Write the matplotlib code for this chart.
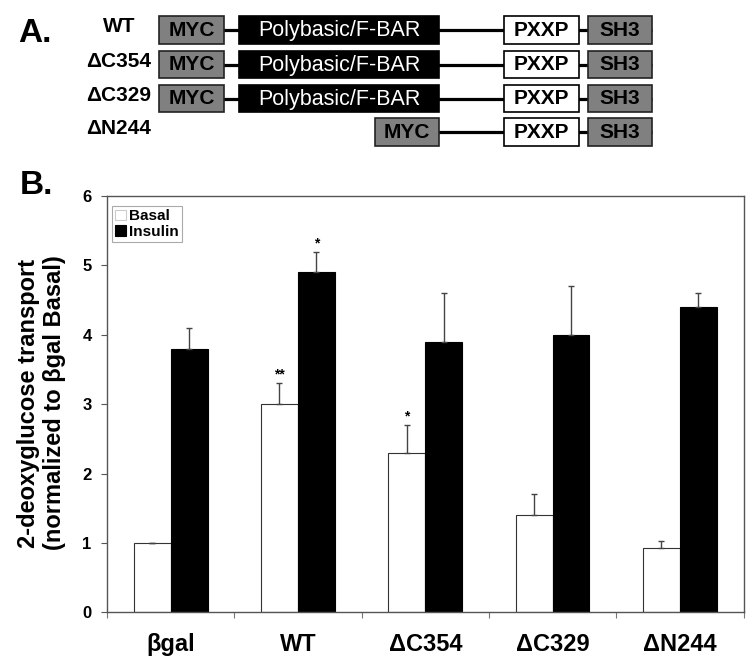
import matplotlib
matplotlib.use("Agg")
import matplotlib.pyplot as plt
from matplotlib.patches import Rectangle
import numpy as np

plt.rcParams['font.family'] = ['Liberation Sans', 'DejaVu Sans']

# panel B data
groups = ['\u03b2gal', 'WT', '\u0394C354', '\u0394C329', '\u0394N244']
basal = [1.0, 3.0, 2.3, 1.4, 0.93]
basal_err = [0.0, 0.3, 0.4, 0.3, 0.1]
insulin = [3.8, 4.9, 3.9, 4.0, 4.4]
insulin_err = [0.3, 0.3, 0.7, 0.7, 0.2]
basal_sig = ['', '**', '*', '', '']
insulin_sig = ['', '*', '', '', '']

# panel A schematic (domain spans along the panel, in pixels)
constructs = ['WT', '\u0394C354', '\u0394C329', '\u0394N244']
domains = [
    [('MYC', 159, 224), ('Polybasic/F-BAR', 239, 439), ('PXXP', 504, 579), ('SH3', 588, 652)],
    [('MYC', 159, 224), ('Polybasic/F-BAR', 239, 439), ('PXXP', 504, 579), ('SH3', 588, 652)],
    [('MYC', 159, 224), ('Polybasic/F-BAR', 239, 439), ('PXXP', 504, 579), ('SH3', 588, 652)],
    [('MYC', 375, 439), ('PXXP', 504, 579), ('SH3', 588, 652)],
]
row_y = [30, 64.5, 98.5, 132]

dom_style = {
    'MYC': dict(fc='#808080', ec='#222222', tc='black', fw='bold'),
    'Polybasic/F-BAR': dict(fc='black', ec='black', tc='white', fw='normal'),
    'PXXP': dict(fc='white', ec='black', tc='black', fw='bold'),
    'SH3': dict(fc='#808080', ec='#222222', tc='black', fw='bold'),
}

W, H = 752, 662
fig = plt.figure(figsize=(W / 100, H / 100), dpi=100)

# ---- panel A ----
axA = fig.add_axes([0, 1 - 160 / H, 1, 160 / H])
axA.set_xlim(0, W)
axA.set_ylim(160, 0)
axA.axis('off')
box_h = 27.5
for name, yc, doms in zip(constructs, row_y, domains):
    axA.plot([doms[0][1], doms[-1][2]], [yc, yc], color='black', lw=2.3, zorder=1,
             solid_capstyle='butt')
    for dname, x0, x1 in doms:
        st = dom_style[dname]
        axA.add_patch(Rectangle((x0, yc - box_h / 2), x1 - x0, box_h, facecolor=st['fc'],
                                edgecolor=st['ec'], lw=1.2, zorder=2))
        axA.text((x0 + x1) / 2, yc + 0.5, dname, ha='center', va='center', color=st['tc'],
                 fontsize=15.5 if dname == 'Polybasic/F-BAR' else 15, fontweight=st['fw'],
                 zorder=3)
    axA.text(119, yc - 3, name, ha='center', va='center', fontsize=15, fontweight='bold')
fig.text(35 / W, 1 - 34 / H, 'A.', ha='center', va='center', fontsize=24, fontweight='bold')
fig.text(36 / W, 1 - 186 / H, 'B.', ha='center', va='center', fontsize=24, fontweight='bold')

# ---- panel B ----
ax = fig.add_axes([107 / W, 1 - 612.3 / H, (743.5 - 107) / W, (612.3 - 196) / H])
x = np.arange(len(groups))
w = 0.29
ax.bar(x - w / 2, basal, w, color='white', edgecolor='#333333', lw=0.8, label='Basal', zorder=2)
ax.bar(x + w / 2, insulin, w, color='black', edgecolor='black', lw=0.8, label='Insulin', zorder=2)
ax.errorbar(x - w / 2, basal, yerr=[np.zeros(len(basal)), basal_err], fmt='none',
            ecolor='#444444', elinewidth=1, capsize=2.5, capthick=1, zorder=3)
ax.errorbar(x + w / 2, insulin, yerr=[np.zeros(len(insulin)), insulin_err], fmt='none',
            ecolor='#444444', elinewidth=1, capsize=2.5, capthick=1, zorder=3)

for i in range(len(groups)):
    if basal_sig[i]:
        ax.annotate(basal_sig[i], (x[i] - w / 2, basal[i] + basal_err[i]), xytext=(0, 1),
                    textcoords='offset points', ha='center', va='bottom', fontsize=10,
                    fontweight='bold')
    if insulin_sig[i]:
        ax.annotate(insulin_sig[i], (x[i] + w / 2, insulin[i] + insulin_err[i]), xytext=(0, 1),
                    textcoords='offset points', ha='center', va='bottom', fontsize=10,
                    fontweight='bold')

ax.set_xlim(-0.5, len(groups) - 0.5)
ax.set_ylim(0, 6)
ax.set_yticks(range(0, 7))
ax.set_yticklabels([str(v) for v in range(0, 7)], fontsize=12, fontweight='bold')
ax.set_xticks(np.arange(-0.5, len(groups), 1.0))
ax.set_xticklabels([])
ax.set_xticks(x, minor=True)
ax.set_xticklabels(groups, minor=True, fontsize=17, fontweight='bold')
ax.tick_params(axis='x', which='major', direction='out', length=4, color='#777777')
ax.tick_params(axis='x', which='minor', length=0, pad=15)
ax.tick_params(axis='y', direction='out', length=4, color='#555555', pad=7)
for s in ax.spines.values():
    s.set_color('#555555')
    s.set_linewidth(1)

leg = ax.legend(loc='upper left', bbox_to_anchor=(0.008, 0.975), borderaxespad=0,
                prop={'weight': 'bold', 'size': 11}, handlelength=0.7,
                handleheight=0.7, handletextpad=0.2, labelspacing=0.1, borderpad=0.2,
                fancybox=False, edgecolor='#aaaaaa', framealpha=1)
leg.get_frame().set_linewidth(0.8)
leg.legend_handles[0].set_edgecolor('#cccccc')

fig.text(41.5 / W, 1 - 403 / H, '2-deoxyglucose transport\n(normalized to \u03b2gal Basal)',
         rotation=90, ha='center', va='center', multialignment='center', fontsize=17,
         fontweight='bold', linespacing=1.2)

fig.savefig('out.png', dpi=100)
